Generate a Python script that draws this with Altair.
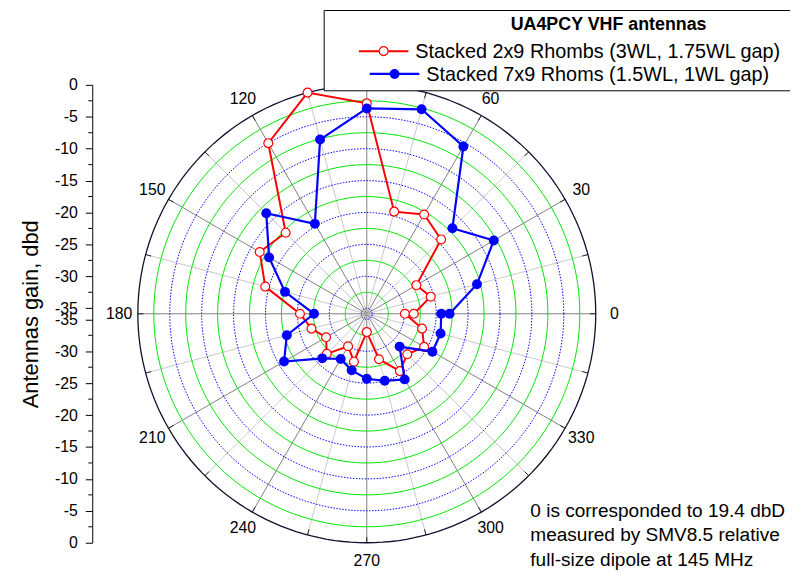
import altair as alt
import pandas as pd
import numpy as np

# ---------------- data ----------------
angles = [0, 15, 30, 45, 60, 75, 90, 105, 120, 135, 150, 165, 180,
          195, 210, 225, 240, 255, 270, 285, 300, 315, 330, 345, 360]
rhombs_2x9 = [-28.5, -25.5, -26.9, -19.4, -17.9, -19.3, -2.9, 0.0, -5.0,
              -17.9, -16.5, -19.4, -25.4, -26.9, -28.5, -27.0, -30.0, -28.1,
              -33.0, -28.5, -25.5, -26.9, -25.5, -26.9, -29.9]
rhoms_7x9 = [-22.9, -18.0, -12.9, -16.9, -5.6, -2.7, -3.7, -7.6, -19.6,
             -13.6, -18.2, -22.6, -27.6, -22.9, -20.9, -26.0, -27.7, -26.7,
             -25.7, -25.0, -24.0, -28.6, -24.0, -23.9, -24.2]
angle_labels = [0, 30, 60, 90, 120, 150, 180, 210, 240, 270, 300, 330]
major_ticks = [0, -5, -10, -15, -20, -25, -30, -35]
minor_ticks = [-2.5, -7.5, -12.5, -17.5, -22.5, -27.5, -32.5]
rings_green = [-2.5, -7.5, -12.5, -17.5, -22.5, -27.5, -32.5]
rings_blue = [-5, -10, -15, -20, -25, -30, -35]
spoke_angles = list(range(0, 360, 15))
legend_title = "UA4PCY VHF antennas"
name_red = "Stacked 2x9 Rhombs (3WL, 1.75WL gap)"
name_blue = "Stacked 7x9 Rhoms (1.5WL, 1WL gap)"
note_lines = ["0 is corresponded to 19.4 dbD",
              "measured by SMV8.5 relative",
              "full-size dipole at 145 MHz"]

# ---------------- geometry helpers ----------------
C = 35.87          # radial offset: gain at the pole
FONT = "Liberation Sans, Arial, sans-serif"
W = H = 462
sx = alt.Scale(domain=[-C, C], nice=False, zero=False)
sy = alt.Scale(domain=[-C, C], nice=False, zero=False)
XE = f"(datum.gain + {C}) * cos(datum.angle * PI / 180)"
YE = f"(datum.gain + {C}) * sin(datum.angle * PI / 180)"

# y axis (mirrored radial scale): positions above and below the pole
major_vals = [g + C for g in major_ticks] + [-(g + C) for g in major_ticks]
minor_vals = [g + C for g in minor_ticks] + [-(g + C) for g in minor_ticks]
yaxis = alt.Axis(
    values=major_vals, offset=46, grid=False, orient="left",
    labelExpr=f"'' + round(abs(datum.value) - {C})",
    tickSize=7, tickColor="black", domainColor="black", labelColor="black",
    labelFont=FONT, labelFontSize=16, labelPadding=8, labelOverlap=False,
    title="Antennas gain, dbd", titleFont=FONT, titleFontSize=22,
    titleFontWeight="normal", titleColor="black", titlePadding=12,
)


def polar(df):
    return alt.Chart(df).transform_calculate(x=XE, y=YE)


def xy():
    return dict(x=alt.X("x:Q", scale=sx, axis=None),
                y=alt.Y("y:Q", scale=sy, axis=yaxis))


minor_layer = alt.Chart(pd.DataFrame({"y": minor_vals})).mark_rule(
    color="black", strokeWidth=1).encode(
    x=alt.value(-50), x2=alt.value(-46), y=alt.Y("y:Q", scale=sy, axis=yaxis))

# spokes
sp = pd.DataFrame({"angle": spoke_angles})
sp["major"] = sp["angle"] % 30 == 0
spokes = alt.Chart(sp).transform_calculate(
    x="0", y="0",
    x2=f"{C} * cos(datum.angle * PI / 180)",
    y2=f"{C} * sin(datum.angle * PI / 180)",
).mark_rule(strokeWidth=1).encode(
    **xy(), x2="x2:Q", y2="y2:Q",
    color=alt.condition("datum.major", alt.value("#808080"), alt.value("#C8C8C8")),
)
ticks = alt.Chart(sp).transform_calculate(
    x=f"{C - 0.9} * cos(datum.angle * PI / 180)",
    y=f"{C - 0.9} * sin(datum.angle * PI / 180)",
    x2=f"{C} * cos(datum.angle * PI / 180)",
    y2=f"{C} * sin(datum.angle * PI / 180)",
).mark_rule(strokeWidth=1, color="#202020").encode(
    **xy(), x2="x2:Q", y2="y2:Q")

# grid rings
ring_ang = np.arange(0, 362, 2)
def ring_df(gains):
    return pd.DataFrame([(g, a) for g in gains for a in ring_ang],
                        columns=["gain", "angle"])

green = polar(ring_df(rings_green)).mark_line(
    color="#00E600", strokeWidth=1).encode(**xy(), detail="gain:N", order="angle:Q")
blue_r = polar(ring_df(rings_blue)).mark_line(
    color="#0000FF", strokeWidth=1, strokeDash=[1.5, 1.5]).encode(
    **xy(), detail="gain:N", order="angle:Q")
outer = polar(ring_df([0])).mark_line(
    color="#101030", strokeWidth=1.3).encode(
    **xy(), detail="gain:N", order="angle:Q")

# series
red_df = pd.DataFrame({"angle": angles, "gain": rhombs_2x9, "i": range(len(angles))})
blue_df = pd.DataFrame({"angle": angles, "gain": rhoms_7x9, "i": range(len(angles))})
red_line = polar(red_df).mark_line(color="#FF0000", strokeWidth=2).encode(**xy(), order="i:Q")
red_pts = polar(red_df).mark_point(shape="circle", filled=True, fill="white",
                                   stroke="#FF0000", strokeWidth=1.2, size=80,
                                   opacity=1).encode(**xy())
blue_line = polar(blue_df).mark_line(color="#0000FF", strokeWidth=2.2).encode(**xy(), order="i:Q")
blue_pts = polar(blue_df).mark_point(shape="circle", filled=True, color="#0000FF",
                                     size=100, opacity=1).encode(**xy())

# angle labels
lab = pd.DataFrame({"angle": angle_labels, "gain": [38.8 - C] * len(angle_labels)})
lab["txt"] = lab["angle"].astype(str)
labels = polar(lab).mark_text(font=FONT, fontSize=16, color="black",
                              baseline="middle", align="center").encode(**xy(), text="txt:N")

# legend (manual)
one = pd.DataFrame({"k": [0]})
leg_box = alt.Chart(one).mark_rect(fill="white", stroke="black", strokeWidth=1).encode(
    x=alt.value(188), x2=alt.value(661), y=alt.value(-75), y2=alt.value(6))
leg_title = alt.Chart(one).mark_text(font=FONT, fontSize=18, fontWeight="bold",
                                     color="black", align="center", baseline="middle",
                                     text=legend_title).encode(
    x=alt.value(475), y=alt.value(-60))
leg_r_line = alt.Chart(one).mark_rule(color="#FF0000", strokeWidth=2).encode(
    x=alt.value(223), x2=alt.value(273), y=alt.value(-34))
leg_r_pt = alt.Chart(one).mark_point(shape="circle", filled=True, fill="white",
                                     stroke="#FF0000", strokeWidth=1.2, size=80,
                                     opacity=1).encode(x=alt.value(248), y=alt.value(-34))
leg_r_txt = alt.Chart(one).mark_text(font=FONT, fontSize=20, color="black",
                                     align="left", baseline="middle",
                                     text=name_red).encode(x=alt.value(280), y=alt.value(-33))
leg_b_line = alt.Chart(one).mark_rule(color="#0000FF", strokeWidth=2.2).encode(
    x=alt.value(234), x2=alt.value(284), y=alt.value(-11))
leg_b_pt = alt.Chart(one).mark_point(shape="circle", filled=True, color="#0000FF",
                                     size=100, opacity=1).encode(x=alt.value(259), y=alt.value(-11))
leg_b_txt = alt.Chart(one).mark_text(font=FONT, fontSize=20, color="black",
                                     align="left", baseline="middle",
                                     text=name_blue).encode(x=alt.value(291), y=alt.value(-10))

note = alt.Chart(one).mark_text(font=FONT, fontSize=19.2, color="black", align="left",
                                baseline="top", lineHeight=24.5,
                                text=note_lines).encode(x=alt.value(396), y=alt.value(421))

chart = alt.layer(
    minor_layer, spokes, green, blue_r, ticks, outer,
    red_line, red_pts, blue_line, blue_pts, labels,
    leg_box, leg_title, leg_r_line, leg_r_pt, leg_r_txt,
    leg_b_line, leg_b_pt, leg_b_txt, note,
).properties(
    width=W, height=H,
    autosize=alt.AutoSizeParams(type="none"),
    padding={"left": 131, "top": 75, "right": 196, "bottom": 29},
    background="white",
).configure_view(stroke=None)

chart.save("out.html", embed_options={"renderer": "svg", "actions": False})
